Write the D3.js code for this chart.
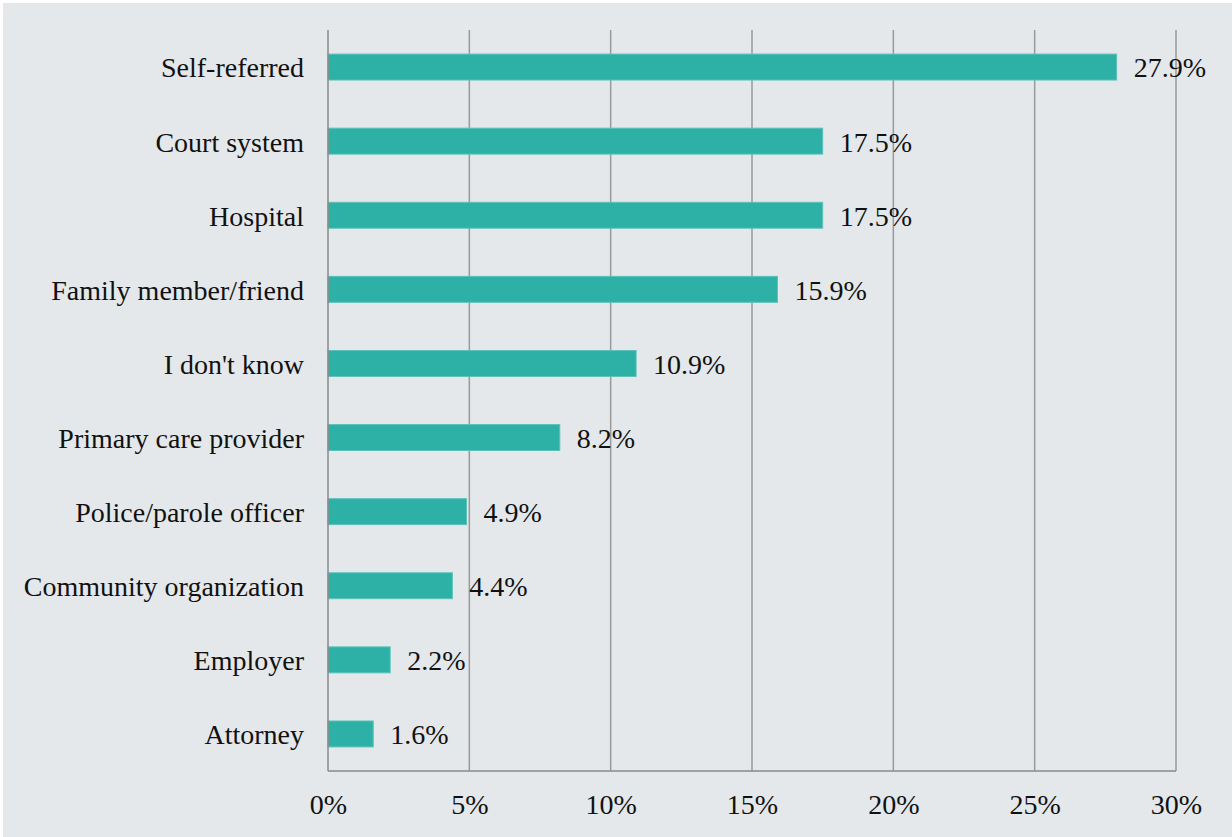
<!DOCTYPE html>
<html>
<head>
<meta charset="utf-8">
<script src="https://cdn.jsdelivr.net/npm/d3@7"></script>
<style>
  html, body { margin: 0; padding: 0; background: #ffffff; }
  svg { display: block; }
</style>
</head>
<body>
<svg id="chart" width="1232" height="837"></svg>
<script>
const categories = [
  "Self-referred", "Court system", "Hospital", "Family member/friend",
  "I don't know", "Primary care provider", "Police/parole officer",
  "Community organization", "Employer", "Attorney"
];
const values = [27.9, 17.5, 17.5, 15.9, 10.9, 8.2, 4.9, 4.4, 2.2, 1.6];
const tickValues = [0, 5, 10, 15, 20, 25, 30];

const W = 1232, H = 837;
const margin = { left: 328, right: 56, top: 30, bottom: 66 };
const font = "'Liberation Serif', 'Times New Roman', serif";
const fontSize = 28;

const svg = d3.select("#chart");
svg.append("rect").attr("x", 3).attr("y", 3).attr("width", W - 3).attr("height", H - 3)
  .attr("fill", "#e4e8eb");

const x = d3.scaleLinear().domain([0, 30]).range([margin.left, W - margin.right]);
const y = d3.scaleBand().domain(categories).range([margin.top, H - margin.bottom])
  .paddingInner(0.65).paddingOuter(0.325);

// vertical gridlines
svg.append("g").selectAll("line").data(tickValues.slice(1)).join("line")
  .attr("x1", d => x(d)).attr("x2", d => x(d))
  .attr("y1", margin.top).attr("y2", H - margin.bottom)
  .attr("stroke", "#9a9a9a").attr("stroke-width", 1.5);

// bars
svg.append("g").selectAll("rect").data(values).join("rect")
  .attr("x", x(0))
  .attr("y", (d, i) => y(categories[i]))
  .attr("width", d => x(d) - x(0))
  .attr("height", y.bandwidth())
  .attr("fill", "#2db0a5")
  .attr("stroke", "#5cc2b9").attr("stroke-width", 1);

// value labels
svg.append("g").selectAll("text").data(values).join("text")
  .attr("x", d => x(d) + 17)
  .attr("y", (d, i) => y(categories[i]) + y.bandwidth() / 2)
  .attr("dy", "0.37em")
  .attr("font-family", font).attr("font-size", fontSize).attr("fill", "#111")
  .text(d => d.toFixed(1) + "%");

// left axis line and bottom axis line
svg.append("line").attr("x1", x(0)).attr("x2", x(0))
  .attr("y1", margin.top).attr("y2", H - margin.bottom)
  .attr("stroke", "#8a8a8a").attr("stroke-width", 1.5);
svg.append("line").attr("x1", x(0)).attr("x2", x(30))
  .attr("y1", H - margin.bottom).attr("y2", H - margin.bottom)
  .attr("stroke", "#8a8a8a").attr("stroke-width", 1.5);

// category labels
const yAxis = d3.axisLeft(y).tickSize(0).tickPadding(24);
const gy = svg.append("g").attr("transform", `translate(${x(0)},0)`).call(yAxis);
gy.select(".domain").remove();
gy.selectAll("text").attr("font-family", font).attr("font-size", fontSize).attr("fill", "#111")
  .attr("dy", "0.37em");

// x tick labels
const xAxis = d3.axisBottom(x).tickValues(tickValues).tickSize(0).tickPadding(23)
  .tickFormat(d => d + "%");
const gx = svg.append("g").attr("transform", `translate(0,${H - margin.bottom})`).call(xAxis);
gx.select(".domain").remove();
gx.selectAll("text").attr("font-family", font).attr("font-size", fontSize).attr("fill", "#111");
</script>
</body>
</html>
